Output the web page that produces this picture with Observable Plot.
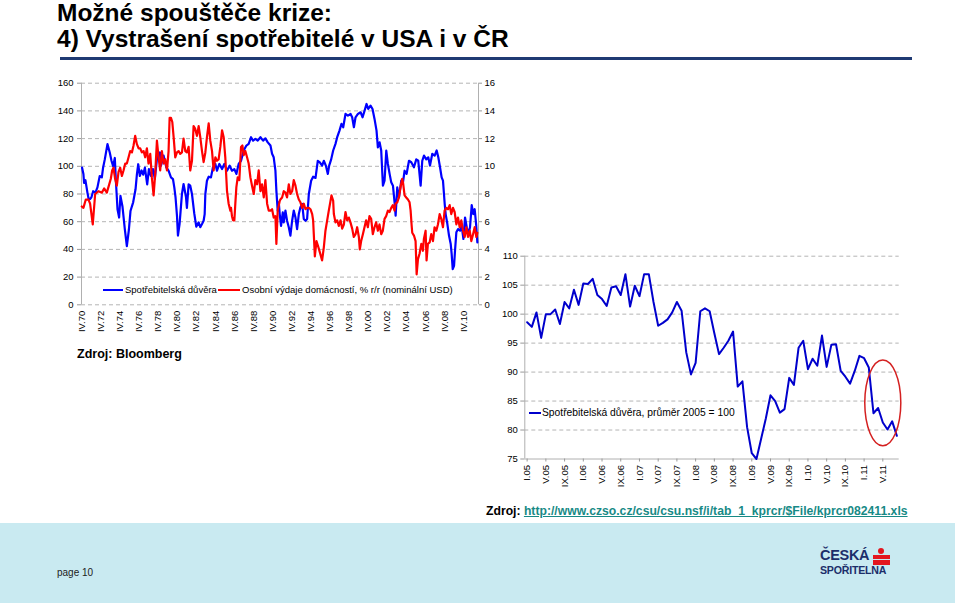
<!DOCTYPE html>
<html><head><meta charset="utf-8">
<script src="https://cdn.jsdelivr.net/npm/d3@7"></script>
<script src="https://cdn.jsdelivr.net/npm/@observablehq/plot@0.6"></script>
<style>
body{margin:0;background:#fff;font-family:"Liberation Sans",Arial,sans-serif;}
#page{position:relative;width:960px;height:605px;overflow:hidden;background:#fff;}
.abs{position:absolute;white-space:nowrap;}
</style></head><body><div id="page">
<div class="abs" style="left:0;top:523px;width:955px;height:80px;background:#c9eaf1;"></div>
<div class="abs" style="left:57px;top:0px;font-size:24.5px;font-weight:bold;line-height:25.5px;color:#000;">Možné spouštěče krize:<br>4) Vystrašení spotřebitelé v USA i v ČR</div>
<div class="abs" style="left:60px;top:57px;width:852px;height:3px;background:#1f3a73;"></div>
<div id="leftChart" class="abs" style="left:40px;top:70px;"></div>
<div id="rightChart" class="abs" style="left:490px;top:240px;"></div>
<div class="abs" style="left:103px;top:289px;width:20px;height:2px;background:#0000ff;"></div>
<div class="abs" style="left:125px;top:284px;font-size:9.5px;line-height:12px;color:#000;">Spotřebitelská důvěra</div>
<div class="abs" style="left:218px;top:289px;width:22px;height:2px;background:#ff0000;"></div>
<div class="abs" style="left:242px;top:284px;font-size:9.5px;line-height:12px;color:#000;">Osobní výdaje domácností, % r/r (nominální USD)</div>
<div class="abs" style="left:529px;top:412px;width:12px;height:2px;background:#0000cc;"></div>
<div class="abs" style="left:542px;top:407px;font-size:10.3px;line-height:12px;color:#000;">Spotřebitelská důvěra, průměr 2005 = 100</div>
<div class="abs" style="left:77px;top:346px;font-size:12.5px;font-weight:bold;line-height:16px;color:#000;">Zdroj: Bloomberg</div>
<div class="abs" style="left:486px;top:503px;font-size:12.2px;font-weight:bold;line-height:16px;color:#000;">Zdroj: <span style="color:#178a86;text-decoration:underline;">http://www.czso.cz/csu/csu.nsf/i/tab_1_kprcr/$File/kprcr082411.xls</span></div>
<div class="abs" style="left:57px;top:566px;font-size:10px;line-height:13px;color:#222;">page 10</div>
<div class="abs" style="left:820px;top:547px;font-size:14.5px;font-weight:bold;line-height:17px;color:#1c2e6a;letter-spacing:-0.3px;">ČESKÁ</div>
<div class="abs" style="left:820px;top:564px;font-size:10.6px;font-weight:bold;line-height:12px;color:#1c2e6a;letter-spacing:-0.2px;">SPOŘITELNA</div>
<div class="abs" style="left:878px;top:548px;width:6px;height:6px;border-radius:3px;background:#e3161e;"></div>
<div class="abs" style="left:873px;top:555px;width:17px;height:4px;background:#e3161e;"></div>
<div class="abs" style="left:873px;top:560px;width:17px;height:5px;background:#e3161e;"></div>
</div>
<script>
// ---------- USA: consumer confidence (left axis) ----------
const usConfYears = [1970.28,1970.42,1970.49,1970.63,1970.84,1970.98,1971.12,1971.26,1971.44,1971.68,1971.89,1972.13,1972.35,1972.48,1972.66,1972.94,1973.18,1973.36,1973.53,1973.71,1973.81,1973.99,1974.16,1974.30,1974.51,1974.76,1974.97,1975.18,1975.35,1975.63,1975.88,1976.02,1976.16,1976.33,1976.51,1976.68,1976.86,1977.10,1977.28,1977.49,1977.70,1977.90,1978.18,1978.43,1978.54,1978.82,1979.10,1979.34,1979.59,1979.80,1979.94,1980.07,1980.22,1980.32,1980.49,1980.63,1980.74,1980.91,1981.16,1981.26,1981.44,1981.61,1981.79,1982.03,1982.24,1982.49,1982.66,1982.84,1983.01,1983.12,1983.19,1983.36,1983.54,1983.78,1983.99,1984.24,1984.41,1984.66,1984.94,1985.18,1985.46,1985.74,1985.98,1986.23,1986.44,1986.68,1986.93,1987.21,1987.49,1987.73,1987.98,1988.19,1988.43,1988.68,1988.96,1989.24,1989.48,1989.73,1990.01,1990.18,1990.35,1990.53,1990.63,1990.77,1990.88,1990.98,1991.12,1991.30,1991.40,1991.58,1991.75,1991.93,1992.10,1992.28,1992.45,1992.63,1992.80,1992.98,1993.15,1993.33,1993.50,1993.68,1993.85,1994.03,1994.27,1994.48,1994.73,1994.97,1995.18,1995.42,1995.60,1995.81,1996.02,1996.16,1996.37,1996.58,1996.82,1997.00,1997.24,1997.45,1997.63,1997.87,1998.12,1998.40,1998.57,1998.75,1998.92,1999.17,1999.45,1999.66,1999.87,2000.07,2000.25,2000.49,2000.70,2000.91,2001.12,2001.26,2001.44,2001.61,2001.79,2001.96,2002.14,2002.31,2002.49,2002.66,2002.84,2003.01,2003.12,2003.29,2003.47,2003.71,2003.89,2004.06,2004.27,2004.52,2004.76,2005.04,2005.28,2005.49,2005.74,2005.91,2006.09,2006.33,2006.54,2006.72,2006.96,2007.21,2007.42,2007.59,2007.77,2007.94,2008.08,2008.26,2008.36,2008.54,2008.71,2008.89,2008.99,2009.10,2009.24,2009.34,2009.48,2009.66,2009.87,2010.04,2010.22,2010.39,2010.57,2010.74,2010.91,2011.09,2011.26,2011.40,2011.55,2011.68];
const usConfValues = [99,94.5,88,90,81,76,76.4,77.6,82,81,84.8,93,92,99,105,116,110,104,100,106,91,69,63,78.6,71,54.5,42.4,54,67.7,74,83.4,94,101.5,93,97,94,99,87,98,93,98,91,109,110,100.5,107.7,99.3,96.8,92,90.8,84.8,77.5,64.3,50,58.3,70.4,80,87.2,78,70,87,86,80,66,56.4,59.5,56,58.3,60.7,65.5,80,89.6,92.5,92,99.3,101.7,96.8,101.7,98,101.7,96.8,100.5,96.8,98,94.5,101.7,104,111.4,115,116.2,121,118.5,119.8,118.5,121,118.5,120.2,117.3,115,109,106.5,96.8,82.4,68,74,65.5,57,66.7,59.5,68,60.7,56,50,60.7,68,63,54.7,65.5,70.4,72.8,62,60.7,62,80,89.6,92.5,91.6,104,102.9,100.5,104,100.5,94.5,100.5,105,111.4,116.2,121,125.8,130.6,128.2,137.8,136.6,137.8,135.4,128.2,135.4,137.8,139,135.4,140.2,145,141.4,143.8,141.4,134.2,125.8,113.7,117.3,111.4,86,89.6,111.4,101.7,94.5,88.4,86,74,64.3,84.8,77.5,89.6,88.4,96.8,94.5,104,102.9,99.3,105,104,86,104,107.7,105,106.5,100.5,109,107.7,111.4,106.5,99.3,92,89.6,72.8,65.5,58.3,50,43.9,36.6,25.8,28.2,39,52.3,54.7,53.5,57,47.5,63,56,51,56,72,65.5,69,58.3,45];

// ---------- USA: personal consumption spending, % y/y (right axis) ----------
const usSpendYears = [1970.25,1970.42,1970.67,1970.95,1971.12,1971.40,1971.65,1972.00,1972.35,1972.59,1972.87,1973.04,1973.29,1973.43,1973.57,1973.74,1973.92,1974.10,1974.27,1974.45,1974.62,1974.80,1974.97,1975.15,1975.32,1975.50,1975.67,1975.84,1976.02,1976.20,1976.37,1976.54,1976.72,1976.89,1977.07,1977.24,1977.42,1977.59,1977.77,1977.94,1978.12,1978.29,1978.46,1978.64,1978.82,1978.99,1979.17,1979.34,1979.45,1979.59,1979.73,1979.87,1980.04,1980.22,1980.39,1980.56,1980.74,1980.91,1981.09,1981.26,1981.44,1981.61,1981.79,1981.96,1982.13,1982.31,1982.49,1982.66,1982.84,1983.01,1983.19,1983.36,1983.54,1983.71,1983.89,1984.06,1984.24,1984.41,1984.58,1984.76,1984.94,1985.11,1985.28,1985.46,1985.63,1985.81,1985.88,1985.98,1986.09,1986.23,1986.33,1986.44,1986.58,1986.75,1986.93,1987.07,1987.21,1987.38,1987.56,1987.73,1987.91,1988.08,1988.26,1988.43,1988.61,1988.78,1988.96,1989.13,1989.31,1989.48,1989.66,1989.83,1990.01,1990.18,1990.35,1990.53,1990.63,1990.77,1990.98,1991.05,1991.23,1991.40,1991.58,1991.75,1991.93,1992.10,1992.28,1992.45,1992.63,1992.80,1992.98,1993.15,1993.33,1993.50,1993.68,1993.85,1994.03,1994.20,1994.38,1994.48,1994.55,1994.66,1994.83,1994.97,1995.18,1995.42,1995.60,1995.77,1995.95,1996.12,1996.30,1996.40,1996.58,1996.65,1996.82,1997.00,1997.17,1997.35,1997.52,1997.70,1997.87,1998.04,1998.22,1998.39,1998.57,1998.74,1998.92,1999.09,1999.27,1999.37,1999.51,1999.69,1999.86,2000.03,2000.21,2000.38,2000.56,2000.73,2000.91,2001.08,2001.26,2001.43,2001.61,2001.78,2001.96,2002.13,2002.31,2002.48,2002.66,2002.83,2003.01,2003.11,2003.29,2003.46,2003.64,2003.81,2003.92,2004.06,2004.23,2004.41,2004.58,2004.69,2004.79,2004.86,2005.04,2005.21,2005.32,2005.46,2005.63,2005.81,2005.98,2006.08,2006.26,2006.36,2006.50,2006.68,2006.85,2007.03,2007.20,2007.38,2007.55,2007.73,2007.90,2008.08,2008.25,2008.43,2008.60,2008.78,2008.95,2009.13,2009.30,2009.48,2009.65,2009.83,2010.00,2010.18,2010.35,2010.53,2010.70,2010.88,2011.05,2011.23,2011.40,2011.58,2011.68];
const usSpendValues = [7.1,7.0,7.6,7.6,7.3,5.8,8.0,8.2,8.1,8.4,8.1,8.5,9.1,9.7,9.9,9.1,8.6,9.6,9.9,9.3,9.7,10.2,10.2,10.65,11.1,11.0,11.5,12.2,11.6,11.3,11.3,11.0,11.1,10.65,11.3,10.2,10.9,9.2,7.9,9.45,11.85,10.65,9.7,11.1,10.2,10.5,9.7,11.1,13.5,13.5,13.2,12.1,10.65,11.0,11.1,10.9,11.0,12.0,11.1,11.0,11.4,9.7,10.4,12.9,12.7,12.2,12.9,12.1,11.1,10.3,11.0,12.1,13.1,11.85,11.1,9.7,10.65,10.4,10.5,11.4,12.6,12.1,10.65,8.2,7.3,6.8,7.0,6.4,6.1,6.1,7.3,8.5,9.2,9.0,11.4,11.5,10.8,11.1,10.65,10.2,9.2,8.6,8.0,9.0,8.7,9.7,8.2,8.7,7.75,9.0,7.3,6.8,6.8,6.9,6.3,6.4,4.4,6.8,7.5,7.6,7.75,8.2,8.1,7.75,8.7,8.0,8.2,9.0,8.6,8.0,7.6,7.4,7.0,7.3,6.9,7.0,7.0,6.9,6.55,6.1,5.1,3.5,4.6,4.3,3.8,3.2,4.15,5.35,6.1,6.8,7.5,7.9,7.5,6.55,5.95,6.1,5.7,6.1,5.5,5.8,6.7,6.1,6.3,5.95,5.5,4.9,5.1,5.6,4.9,4.0,4.6,5.1,5.6,6.1,5.6,6.4,6.2,5.1,5.6,5.95,5.35,5.8,5.1,5.35,6.2,6.4,6.8,6.7,7.0,7.2,6.8,7.3,7.4,7.75,8.5,9.1,8.7,7.9,7.75,7.6,7.4,6.8,5.8,5.2,5.0,4.6,2.2,3.3,3.7,4.4,3.9,4.75,5.35,3.2,4.4,4.5,5.1,4.6,5.6,5.35,5.8,6.55,6.2,5.6,6.8,7.0,6.9,7.2,6.55,7.0,6.7,5.8,6.3,5.6,6.1,5.35,4.9,5.6,4.9,5.35,4.6,5.1,5.6,4.9,5.2];

const usTickLabels = ["IV.70","IV.72","IV.74","IV.76","IV.78","IV.80","IV.82","IV.84","IV.86","IV.88","IV.90","IV.92","IV.94","IV.96","IV.98","IV.00","IV.02","IV.04","IV.06","IV.08","IV.10"];
const leftTicks = [0,20,40,60,80,100,120,140,160];

// ---------- Czech consumer confidence, monthly I.05 - VIII.11 ----------
const czValues = [98.6,97.8,100.3,95.9,100.0,100.0,100.8,98.3,102.1,101.0,
  104.2,101.6,105.3,105.2,106.1,103.3,102.6,101.4,104.6,104.8,
  103.3,106.9,101.3,104.9,103.1,106.9,106.9,102.1,98.0,98.5,
  99.1,100.3,102.1,100.6,93.4,89.6,91.6,100.5,101.0,100.5,
  96.7,93.1,94.2,95.4,97.0,87.5,88.4,80.5,76.0,75.0,
  78.5,82.0,86.0,85.0,83.0,83.6,89.0,87.8,94.2,95.4,
  90.5,92.3,91.1,96.3,90.9,94.7,94.8,90.2,89.2,88.0,
  90.2,92.8,92.4,90.8,82.9,83.8,81.3,80.1,81.5,79.0];
const czTickLabels = ["I.05","V.05","IX.05","I.06","V.06","IX.06","I.07","V.07","IX.07","I.08","V.08","IX.08","I.09","V.09","IX.09","I.10","V.10","IX.10","I.11","V.11"];
const rightTicks = [75,80,85,90,95,100,105,110];
// highlight ellipse (data units: month index, index value)
const highlight = {i: 76.1, v: 84.6, di: 3.85, dv: 7.4};

// ---------- build ----------
const usConf = usConfYears.map((x, k) => ({x, y: usConfValues[k]}));
const usSpend = usSpendYears.map((x, k) => ({x, y: usSpendValues[k]}));
const labelYear = l => { const yy = +l.split(".")[1]; return (yy < 50 ? 2000 : 1900) + yy + 0.25; };
const usTicks = usTickLabels.map(labelYear);
const font = '"Liberation Sans", Arial, sans-serif';

const left = Plot.plot({
  width: 460, height: 290,
  marginLeft: 41, marginRight: 22, marginTop: 12.7, marginBottom: 55.7,
  style: {fontFamily: font, fontSize: "9.5px", color: "#000", background: "transparent", overflow: "visible"},
  x: {domain: [1970.22, 2011.8]},
  y: {domain: [0, 160]},
  marks: [
    Plot.gridY(leftTicks, {stroke: "#b4b4b4", strokeOpacity: 1, strokeDasharray: "4,3"}),
    Plot.ruleX([1970.22, 2011.8], {stroke: "#b0b0b0"}),
    Plot.line(usConf, {x: "x", y: "y", stroke: "#0000ff", strokeWidth: 2.2}),
    Plot.line(usSpend, {x: "x", y: d => d.y * 10, stroke: "#ff0000", strokeWidth: 2.2}),
    Plot.axisY(leftTicks, {anchor: "left", tickSize: 4, tickPadding: 4, stroke: "#999", label: null}),
    Plot.axisY(leftTicks, {anchor: "right", tickSize: 3, tickPadding: 3, stroke: "#999", tickFormat: d => String(d / 10), label: null}),
    Plot.axisX(usTicks, {anchor: "bottom", tickSize: 0, tickPadding: 6, tickRotate: -90, tickFormat: d => usTickLabels[usTicks.indexOf(d)], label: null})
  ]
});
document.getElementById("leftChart").appendChild(left);

const cz = czValues.map((v, i) => ({i, v}));
const czTicks = czTickLabels.map((_, k) => k * 4);
const right = Plot.plot({
  width: 420, height: 260,
  marginLeft: 34.3, marginRight: 11.3, marginTop: 15.7, marginBottom: 41.5,
  style: {fontFamily: font, fontSize: "9.5px", color: "#000", background: "transparent", overflow: "visible"},
  x: {domain: [-0.5, czValues.length - 0.5]},
  y: {domain: [75, 110]},
  marks: [
    Plot.gridY(rightTicks.slice(1), {stroke: "#b4b4b4", strokeOpacity: 1, strokeDasharray: "4,3"}),
    Plot.ruleY([75], {stroke: "#b0b0b0"}),
    Plot.ruleX([-0.5], {stroke: "#b0b0b0"}),
    Plot.line(cz, {x: "i", y: "v", stroke: "#0000cc", strokeWidth: 2}),
    Plot.axisY(rightTicks, {anchor: "left", tickSize: 4, tickPadding: 3, stroke: "#999", label: null}),
    Plot.axisX(czTicks, {anchor: "bottom", tickSize: 3, tickPadding: 3, stroke: "#999", tickRotate: -90, tickFormat: d => czTickLabels[d / 4], label: null})
  ]
});
document.getElementById("rightChart").appendChild(right);
{
  const sx = right.scale("x"), sy = right.scale("y");
  const cx = sx.apply(highlight.i), cy = sy.apply(highlight.v);
  d3.select(right).append("ellipse")
    .attr("cx", cx).attr("cy", cy)
    .attr("rx", sx.apply(highlight.i + highlight.di) - cx)
    .attr("ry", sy.apply(highlight.v - highlight.dv) - cy)
    .attr("fill", "none").attr("stroke", "#d42020").attr("stroke-width", 1.5);
}
</script>
</body></html>
